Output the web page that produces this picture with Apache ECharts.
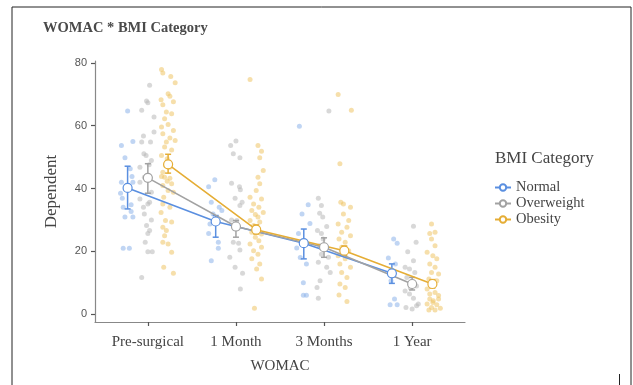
<!DOCTYPE html>
<html><head><meta charset="utf-8">
<script src="https://cdn.jsdelivr.net/npm/echarts@6/dist/echarts.min.js"></script>
<style>html,body{margin:0;padding:0;background:#fff}#c{width:633px;height:385px}</style>
</head><body><div id="c"></div>
<script>
const categories = ['Pre-surgical', '1 Month', '3 Months', '1 Year'];
const yTicks = [0, 20, 40, 60, 80];
const groups = ['Normal', 'Overweight', 'Obesity'];
const groupOffset = [-0.23, 0, 0.23];

const normalMean = [40.2, 29.5, 22.6, 13.0];
const overweightMean = [43.4, 27.9, 21.3, 9.6];
const obesityMean = [47.7, 26.9, 20.2, 9.6];

const normalLow = [33.5, 24.5, 17.6, 9.8];
const normalHigh = [47.1, 31.4, 27.1, 16.0];
const overweightLow = [38.5, 24.5, 18.1, 7.7];
const overweightHigh = [47.9, 29.8, 24.3, 11.7];
const obesityLow = [44.9, 25.5, 18.7, 8.3];
const obesityHigh = [50.9, 28.4, 21.7, 11.0];

// [time index, jitter offset, value]
const normalPts = [
[0,-0.23,64.7],[0,-0.30,53.7],[0,-0.17,55.0],[0,-0.26,49.8],[0,-0.20,46.3],[0,-0.18,43.8],[0,-0.30,42.0],[0,-0.17,42.0],[0,-0.29,36.9],[0,-0.19,34.8],[0,-0.28,34.0],[0,-0.19,32.7],[0,-0.26,30.9],[0,-0.17,30.9],[0,-0.28,21.0],[0,-0.21,21.0],[0,-0.31,38.5],[0,-0.25,40.0],
[1,-0.24,42.8],[1,-0.31,40.6],[1,-0.28,35.6],[1,-0.19,34.0],[1,-0.26,31.9],[1,-0.31,25.7],[1,-0.20,22.9],[1,-0.20,21.0],[1,-0.28,17.0],[1,-0.295,28.7],[1,-0.16,33.0],
[2,-0.28,59.8],[2,-0.18,34.8],[2,-0.25,31.9],[2,-0.16,28.9],[2,-0.29,25.7],[2,-0.31,21.1],[2,-0.20,16.0],[2,-0.235,10.0],[2,-0.235,6.0],[2,-0.20,6.0],[2,-0.27,18.0],
[3,-0.21,23.9],[3,-0.17,22.6],[3,-0.27,17.9],[3,-0.19,16.0],[3,-0.24,10.6],[3,-0.20,4.8],[3,-0.25,3.0],[3,-0.17,3.0],[3,-0.23,13.8]
];
const overweightPts = [
[0,0.02,72.9],[0,-0.015,67.9],[0,0,67.3],[0,-0.07,64.9],[0,0.07,62.8],[0,-0.05,56.7],[0,0.03,54.8],[0,-0.07,54.8],[0,0.07,58.0],[0,-0.045,51.1],[0,-0.02,50.5],[0,0.04,48.9],[0,0.015,47.6],[0,-0.09,46.8],[0,-0.04,43.6],[0,-0.09,42.0],[0,0.04,38.8],[0,-0.09,36.7],[0,0.02,35.6],[0,0,35.1],[0,-0.05,34.0],[0,-0.04,31.9],[0,0.04,30.0],[0,-0.015,28.2],[0,0.02,26.6],[0,0,25.7],[0,-0.03,22.9],[0,0,19.9],[0,0.05,19.9],[0,-0.07,11.7],
[1,-0.06,53.7],[1,0,55.1],[1,-0.03,51.1],[1,0.045,49.8],[1,-0.05,41.7],[1,0.04,40.6],[1,0.05,39.6],[1,-0.01,36.9],[1,0.045,34.6],[1,0.07,35.6],[1,-0.05,30.0],[1,0.01,29.8],[1,-0.03,22.9],[1,0.03,22.6],[1,0.045,20.4],[1,-0.07,18.1],[1,-0.01,14.9],[1,0.075,13.0],[1,0.05,8.0],[1,-0.01,27.7],
[2,0.055,64.7],[2,-0.065,36.9],[2,-0.03,34.6],[2,-0.05,32.1],[2,-0.015,30.9],[2,0.03,27.9],[2,-0.075,26.6],[2,-0.03,25.7],[2,-0.01,23.9],[2,-0.05,21.8],[2,0.03,21.3],[2,-0.03,19.1],[2,0.05,18.1],[2,-0.065,16.5],[2,0.03,14.9],[2,-0.045,10.6],[2,-0.08,8.5],[2,-0.065,5.1],[2,0.07,13.3],
[3,0.015,28.0],[3,0.045,22.9],[3,-0.05,19.9],[3,0.015,17.0],[3,-0.08,14.9],[3,-0.03,14.4],[3,0.03,13.3],[3,-0.06,11.7],[3,0,10.1],[3,0.05,9.0],[3,-0.08,7.4],[3,-0.03,6.4],[3,0.015,5.1],[3,0.07,3.2],[3,-0.07,2.1],[3,0,1.6],[3,0.05,2.7],[3,-0.02,8.3]
];
const obesityPts = [
[0,0.155,77.9],[0,0.17,76.8],[0,0.26,75.7],[0,0.31,73.7],[0,0.23,70.2],[0,0.25,69.4],[0,0.15,68.3],[0,0.29,67.6],[0,0.17,66.7],[0,0.21,64.4],[0,0.27,63.8],[0,0.19,62.2],[0,0.23,60.4],[0,0.155,59.6],[0,0.29,58.5],[0,0.17,57.4],[0,0.25,56.1],[0,0.21,54.8],[0,0.31,55.3],[0,0.19,53.2],[0,0.27,52.3],[0,0.155,50.5],[0,0.22,49.5],[0,0.20,47.3],[0,0.25,46.8],[0,0.155,43.8],[0,0.19,43.6],[0,0.25,43.3],[0,0.17,41.0],[0,0.23,39.4],[0,0.29,38.8],[0,0.18,37.2],[0,0.17,35.1],[0,0.25,34.0],[0,0.15,32.4],[0,0.20,29.8],[0,0.27,29.3],[0,0.17,27.7],[0,0.21,26.6],[0,0.19,25.0],[0,0.17,22.9],[0,0.23,22.3],[0,0.27,19.7],[0,0.18,14.9],[0,0.29,13.0],[0,0.17,45.2],[0,0.22,42.3],[0,0.27,41.5],
[1,0.16,74.7],[1,0.25,53.7],[1,0.29,51.9],[1,0.27,49.8],[1,0.31,45.7],[1,0.25,43.6],[1,0.27,41.5],[1,0.23,39.4],[1,0.16,37.2],[1,0.29,36.7],[1,0.20,35.1],[1,0.26,34.0],[1,0.18,33.0],[1,0.31,32.4],[1,0.22,31.7],[1,0.25,30.9],[1,0.16,29.8],[1,0.27,29.3],[1,0.20,28.2],[1,0.235,27.1],[1,0.18,26.1],[1,0.29,25.5],[1,0.22,24.5],[1,0.26,23.4],[1,0.16,22.3],[1,0.29,21.3],[1,0.20,20.2],[1,0.25,19.1],[1,0.18,17.6],[1,0.27,16.0],[1,0.235,14.4],[1,0.29,11.2],[1,0.21,1.9],
[2,0.16,69.9],[2,0.31,64.9],[2,0.18,47.9],[2,0.19,35.6],[2,0.30,34.0],[2,0.22,31.9],[2,0.28,29.8],[2,0.16,28.7],[2,0.26,27.7],[2,0.20,26.1],[2,0.30,25.0],[2,0.17,23.9],[2,0.24,22.9],[2,0.20,21.3],[2,0.28,20.2],[2,0.16,18.6],[2,0.24,17.6],[2,0.18,16.0],[2,0.30,14.9],[2,0.20,13.3],[2,0.26,11.7],[2,0.18,9.6],[2,0.24,8.5],[2,0.17,6.1],[2,0.26,4.0],[2,0.22,35.1],
[3,0.22,28.7],[3,0.26,26.1],[3,0.20,25.7],[3,0.22,23.9],[3,0.26,21.8],[3,0.17,19.7],[3,0.235,18.6],[3,0.28,17.6],[3,0.20,16.0],[3,0.26,14.9],[3,0.22,13.3],[3,0.30,12.8],[3,0.19,11.2],[3,0.28,10.6],[3,0.22,9.0],[3,0.17,8.0],[3,0.26,6.9],[3,0.30,5.9],[3,0.20,4.8],[3,0.24,4.3],[3,0.17,3.2],[3,0.28,3.0],[3,0.22,2.1],[3,0.32,1.9],[3,0.19,1.3],[3,0.26,1.3],[3,0.235,3.7],[3,0.30,4.8],[3,0.20,6.4]
];

const pointColors = ['#8db2ea', '#b8b8b8', '#eec566'];
const lineColors = ['#5a8fe0', '#a2a2a2', '#e5ad35'];
const serif = '"Liberation Serif", "DejaVu Serif", serif';
const sans = '"Liberation Sans", Arial, sans-serif';

const ptsAll = [normalPts, overweightPts, obesityPts];
const means = [normalMean, overweightMean, obesityMean];
const lows = [normalLow, overweightLow, obesityLow];
const highs = [normalHigh, overweightHigh, obesityHigh];

const series = [];
ptsAll.forEach((pts, g) => {
  series.push({
    type: 'scatter', name: groups[g] + ' pts', z: 1,
    symbolSize: 5, silent: true,
    itemStyle: { color: pointColors[g], opacity: 0.55 },
    data: pts.map(p => [p[0] + p[1], p[2]])
  });
});
means.forEach((m, g) => {
  series.push({
    type: 'custom', name: groups[g] + ' err', z: 3, silent: true,
    renderItem: function (params, api) {
      const x = api.value(0);
      const lo = api.coord([x, api.value(1)]);
      const hi = api.coord([x, api.value(2)]);
      const w = 3;
      const st = { stroke: lineColors[g], lineWidth: 1.5 };
      return { type: 'group', children: [
        { type: 'line', shape: { x1: lo[0], y1: lo[1], x2: hi[0], y2: hi[1] }, style: st },
        { type: 'line', shape: { x1: lo[0] - w, y1: lo[1], x2: lo[0] + w, y2: lo[1] }, style: st },
        { type: 'line', shape: { x1: hi[0] - w, y1: hi[1], x2: hi[0] + w, y2: hi[1] }, style: st }
      ]};
    },
    data: m.map((v, i) => [i + groupOffset[g], lows[g][i], highs[g][i]])
  });
});
means.forEach((m, g) => {
  series.push({
    type: 'line', name: groups[g], z: 4,
    symbol: 'circle', symbolSize: 9,
    lineStyle: { color: lineColors[g], width: 1.6 },
    itemStyle: { color: '#fff', borderColor: lineColors[g], borderWidth: 1.2 },
    data: m.map((v, i) => [i + groupOffset[g], v])
  });
});

const chart = echarts.init(document.getElementById('c'), null, { renderer: 'canvas' });
chart.setOption({
  animation: false,
  backgroundColor: '#fff',
  title: {
    text: 'WOMAC * BMI Category', left: 38, top: 16,
    textStyle: { fontFamily: serif, fontWeight: 'bold', fontSize: 14.5, color: '#4a4a4a' }
  },
  grid: { left: 95, right: 168, top: 61, bottom: 63 },
  legend: {
    data: groups, orient: 'vertical', left: 489, top: 175,
    itemWidth: 16, itemHeight: 8, itemGap: 1,
    textStyle: { fontFamily: serif, fontSize: 14.5, color: '#444' }
  },
  graphic: [
    { type: 'text', left: 495, top: 150, style: { text: 'BMI Category', font: '17px ' + serif, fill: '#444' } },
    { type: 'rect', shape: { x: 12, y: 7, width: 619, height: 420 }, style: { fill: 'none', stroke: '#222', lineWidth: 1 }, silent: true },
    { type: 'line', shape: { x1: 619.5, y1: 374, x2: 619.5, y2: 385 }, style: { stroke: '#222', lineWidth: 1 } }
  ],
  xAxis: {
    type: 'value', min: -0.6, max: 3.6,
    name: 'WOMAC', nameLocation: 'middle', nameGap: 37,
    nameTextStyle: { fontFamily: serif, fontSize: 15, color: '#444' },
    axisLine: { show: true, onZero: false, lineStyle: { color: '#888', width: 1.2 } },
    axisTick: { show: true, customValues: [0, 1, 2, 3], length: 4, lineStyle: { color: '#555', width: 1.2 } },
    axisLabel: { customValues: [0, 1, 2, 3], formatter: v => categories[Math.round(v)], margin: 13,
      fontFamily: serif, fontSize: 15, color: '#444' },
    splitLine: { show: false }
  },
  yAxis: {
    type: 'value', min: -2.5, max: 80.6,
    name: 'Dependent', nameLocation: 'middle', nameGap: 35,
    nameTextStyle: { fontFamily: serif, fontSize: 17, color: '#444' },
    axisLine: { show: true, onZero: false, lineStyle: { color: '#888', width: 1.2 } },
    axisTick: { show: true, customValues: yTicks, length: 4, lineStyle: { color: '#555', width: 1.2 } },
    axisLabel: { customValues: yTicks, margin: 8, fontFamily: sans, fontSize: 11, color: '#555' },
    splitLine: { show: false }
  },
  series: series
});
</script>
</body></html>
